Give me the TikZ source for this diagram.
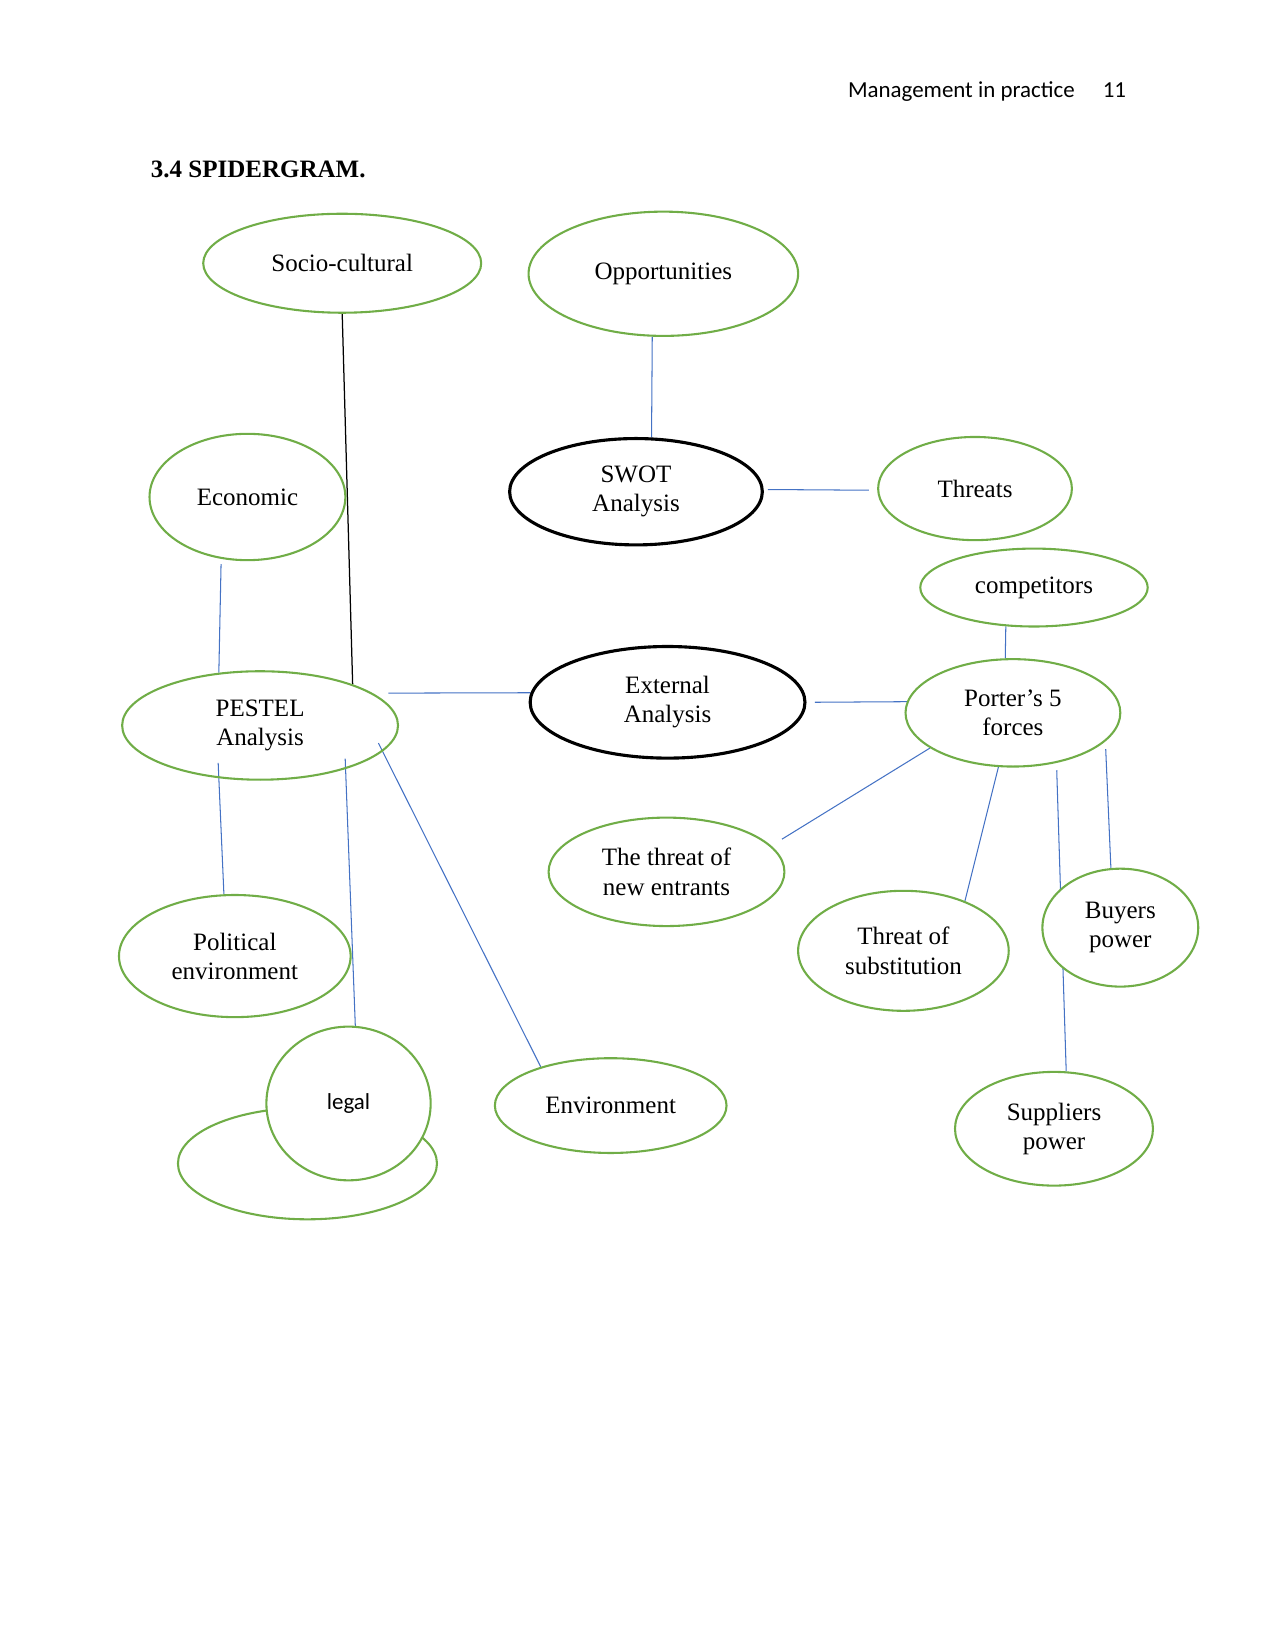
\documentclass[tikz,border=0pt]{standalone}
\usepackage{fontspec}
\setmainfont{Liberation Serif}
\newfontfamily\calibri{Carlito}
\usepackage{tikz}
\usetikzlibrary{shapes.geometric}
\definecolor{leaf}{RGB}{112,173,71}
\definecolor{wire}{RGB}{68,114,196}
\pgfdeclarelayer{links}
\pgfsetlayers{links,main}

\begin{document}
\begin{tikzpicture}[x=0.5054pt, y=-0.5054pt,
  bubble/.style={ellipse, draw=leaf, line width=1pt, inner sep=0pt, align=center,
    font=\fontsize{12}{14}\selectfont},
  hub/.style={bubble, draw=black, line width=1.5pt},
  dims/.style 2 args={minimum width=#1*0.5054pt, minimum height=#2*0.5054pt},
  link/.style={draw=wire, line width=0.5pt}
]
\useasboundingbox (0,0) rectangle (1211,1568);

% page head
\node[anchor=base east, inner sep=0pt, font=\calibri\fontsize{11}{13}\selectfont] (runhead) at (1021,93) {Management in practice};
\node[anchor=base west, inner sep=0pt, font=\calibri\fontsize{11}{13}\selectfont] (pageno) at (1047,93) {11};
\node[anchor=base west, inner sep=0pt, font=\bfseries\fontsize{12}{14}\selectfont] (heading) at (143,169) {3.4 SPIDERGRAM.};

% bubbles
\node[bubble, dims={264}{94}] (socio) at (325,250) {Socio-cultural};
\node[bubble, dims={256}{118}] (opp) at (630,260) {Opportunities};
\node[bubble, dims={186}{120}] (econ) at (235,472) {Economic};
\node[hub, dims={240}{101}] (swot) at (604,467) {SWOT\\Analysis};
\node[bubble, dims={184}{98}] (threats) at (926,464) {Threats};
\node[bubble, dims={216}{74}] (rivals) at (982,558) {competitors};
\node[bubble, dims={262}{103}] (pestel) at (247,689) {PESTEL\\Analysis};
\node[hub, dims={261}{106}] (external) at (634,667) {External\\Analysis};
\node[bubble, dims={204}{102}] (porter) at (962,677) {Porter’s 5\\forces};
\node[bubble, dims={224}{103}] (entrants) at (633,828) {The threat of\\new entrants};
\node[bubble, dims={220}{116}] (political) at (223,908) {Political\\environment};
\node[bubble, dims={200}{114}] (substitute) at (858,903) {Threat of\\substitution};
\node[bubble, fill=white, dims={148}{112}] (buyers) at (1064,881) {Buyers\\power};
\node[bubble, dims={246}{106}] (legalbase) at (292,1105) {};
\node[bubble, fill=white, dims={156}{146}, font=\calibri\fontsize{11}{13}\selectfont] (legal) at (331,1048) {legal};
\node[bubble, dims={220}{90}] (environ) at (580,1050) {Environment};
\node[bubble, dims={188}{108}] (suppliers) at (1001,1072) {Suppliers\\power};

% spokes, kept behind the bubbles
\begin{pgfonlayer}{links}
\draw[line width=0.6pt] (socio.south) -- (pestel.24);
\draw[link] (opp.260) -- (swot.74);
\draw[link, shorten <=2pt, shorten >=4pt] (swot.1) -- (threats.181);
\draw[link, shorten <=2.5pt] (econ.247) -- (pestel.128);
\draw[link, shorten <=7.5pt] (pestel.16) -- (external.176);
\draw[link, shorten <=4pt] (external.east) -- (porter.174);
\draw[link] (rivals.234) -- (porter.98);
\draw[link, shorten <=-7.4pt] (pestel.232) -- (political.100);
\draw[link, shorten <=-5pt] (pestel.333) -- (legal.85);
\draw[link, shorten <=-4.5pt] (pestel.348) -- (environ.151);
\draw[link, shorten >=6pt] (porter.203) -- (entrants.14);
\draw[link] (porter.255) -- (substitute.39);
\draw[link, shorten <=3.5pt] (porter.311) -- (suppliers.78);
\draw[link] ([xshift=5.5pt]porter.336) -- (buyers.99);
\end{pgfonlayer}
\end{tikzpicture}
\end{document}
